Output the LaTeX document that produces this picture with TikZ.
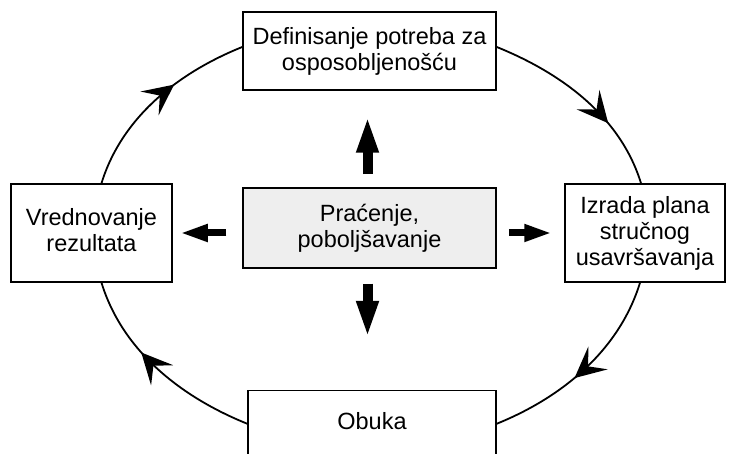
\documentclass[tikz,border=0pt]{standalone}
\usepackage{fontspec}
\setmainfont{Liberation Sans}
\usetikzlibrary{arrows.meta,decorations.markings}

\begin{document}
\begin{tikzpicture}[x=1pt, y=1pt,
    box/.style={draw, line width=1.5pt, align=center, inner sep=2pt,
        font=\fontsize{23.5}{26}\selectfont},
    cycleline/.style={line width=1.8pt, looseness=0.9},
    tipat/.style={postaction={decorate}, decoration={markings,
        mark=at position #1 with {\fill (3pt,0pt) -- (-28pt,15pt) -- (-15pt,0pt) -- (-28pt,-15pt) -- cycle;}}},
    fatarrow/.style={line width=10pt, -{Triangle[length=37pt, width=20pt]}},
    slimarrow/.style={line width=7pt, -{Triangle[length=28pt, width=16pt]}}]
    % Fix the page size
    \useasboundingbox (0,0) rectangle (729,454);
    \clip (0,0) rectangle (729,454);

    % Boxes
    \node[box, minimum width=253pt, minimum height=78pt] (define) at (369.5,403)
        {Definisanje potreba za\\osposobljenošću};
    \node[box, fill=gray!13, minimum width=253pt, minimum height=80pt] (monitor) at (369.5,226)
        {Praćenje,\\poboljšavanje};
    \node[box, minimum width=161pt, minimum height=98pt] (evaluate) at (91.5,221)
        {\raisebox{5pt}{\begin{tabular}{@{}c@{}}Vrednovanje\\rezultata\end{tabular}}};
    \node[box, minimum width=160pt, minimum height=98pt] (plan) at (645,221)
        {Izrada plana\\stručnog\\usavršavanja};
    \node[box, anchor=north, minimum width=248pt, minimum height=66pt] (training) at (372,64)
        {\raisebox{5pt}{Obuka}};

    % Cycle around the boxes
    \draw[cycleline, tipat=0.6] ([xshift=10pt]evaluate.north) to[out=72.9, in=201.9] ([yshift=4pt]define.west);
    \draw[cycleline, tipat=0.65] ([yshift=4pt]define.east) to[out=-22, in=107.1] ([xshift=-4pt]plan.north);
    \draw[cycleline, tipat=0.55] ([xshift=-5pt]plan.south) to[out=-107.1, in=22] (training.east);
    \draw[cycleline, tipat=0.6] (training.west) to[out=158, in=-72.9] ([xshift=10pt]evaluate.south);

    % Arrows out of the middle box
    \draw[fatarrow, shorten <=13pt, shorten >=25pt] ([xshift=-2pt]monitor.north) -- ([xshift=-2pt]define.south);
    \draw[fatarrow, shorten <=15pt, shorten >=52pt] ([xshift=-2pt]monitor.south) -- ([xshift=-2pt]monitor.south |- training.north);
    \draw[slimarrow, shorten <=16pt, shorten >=7pt] (monitor.west |- evaluate.east) -- (evaluate.east);
    \draw[slimarrow, shorten <=12pt, shorten >=12pt] (monitor.east |- plan.west) -- (plan.west);
\end{tikzpicture}
\end{document}
